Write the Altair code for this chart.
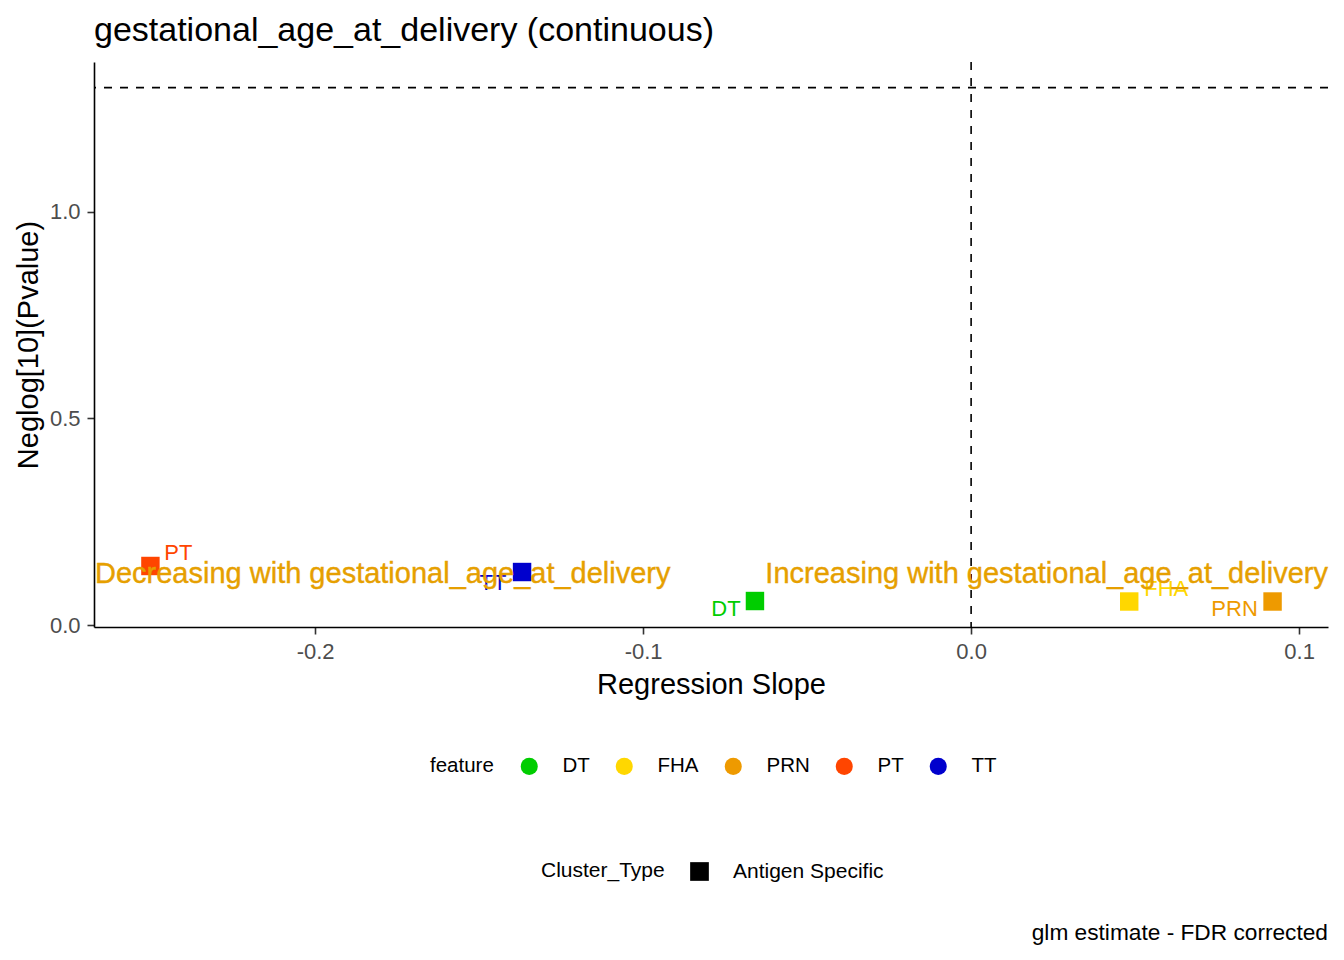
import altair as alt
import pandas as pd

# ---- data ----
features = ["DT", "FHA", "PRN", "PT", "TT"]
slopes = [-0.0659, 0.0482, 0.0919, -0.2502, -0.1369]
neglog_p = [0.0581, 0.0569, 0.0569, 0.1429, 0.1283]
cluster_type = ["Antigen Specific"] * 5
feature_colors = ["#00CD00", "#FFD700", "#EE9A00", "#FF4500", "#0000CD"]

x_ticks = [-0.2, -0.1, 0.0, 0.1]
y_ticks = [0.0, 0.5, 1.0]
x_domain = [-0.2674, 0.1088]
y_domain = [-0.0048, 1.363]

sig_line = [1.30103]   # -log10(0.05)
zero_line = [0.0]

annot_y = [0.1235]
annot_left = ["Decreasing with gestational_age_at_delivery"]
annot_right = ["Increasing with gestational_age_at_delivery"]
caption = ["glm estimate - FDR corrected"]
title_text = "gestational_age_at_delivery (continuous)"

df = pd.DataFrame({"feature": features, "slope": slopes, "nlp": neglog_p,
                   "Cluster_Type": cluster_type})

W, H = 1234, 565
FONT = "Liberation Sans"
ANNOT_COLOR = "#E69F00"
LABEL_EXPR = "replace(format(datum.value, '.1f'), '\u2212', '-')"

# label offsets (repel-like placement), pixels
label_offsets = {"DT": (-29, 8), "FHA": (37, -13), "PRN": (-38, 7),
                 "PT": (28, -13), "TT": (-29, 11)}

xs = alt.Scale(domain=x_domain, nice=False, zero=False)
ys = alt.Scale(domain=y_domain, nice=False, zero=False)
cs = alt.Scale(domain=features, range=feature_colors)

base = alt.Chart(df)

points = base.mark_point(filled=True, opacity=1, size=340, strokeWidth=0).encode(
    x=alt.X("slope:Q", scale=xs,
            axis=alt.Axis(values=x_ticks, labelExpr=LABEL_EXPR, title="Regression Slope")),
    y=alt.Y("nlp:Q", scale=ys,
            axis=alt.Axis(values=y_ticks, labelExpr=LABEL_EXPR, title="Neglog[10](Pvalue)")),
    color=alt.Color("feature:N", scale=cs,
                    legend=alt.Legend(title="feature", orient="none", legendX=336,
                                      legendY=694, direction="horizontal",
                                      symbolType="circle", symbolSize=290,
                                      symbolStrokeWidth=0, titleOrient="left",
                                      labelOffset=23, columnPadding=24,
                                      titlePadding=25)),
    shape=alt.Shape("Cluster_Type:N", scale=alt.Scale(range=["square"]),
                    legend=alt.Legend(title="Cluster_Type", orient="none", legendX=447,
                                      legendY=799, direction="horizontal",
                                      symbolSize=350, symbolFillColor="black",
                                      symbolStrokeColor="black", symbolStrokeWidth=0,
                                      titleOrient="left", labelOffset=23,
                                      titlePadding=24, labelFontSize=21,
                                      titleFontSize=21)),
)

hline = alt.Chart(pd.DataFrame({"y": sig_line})).mark_rule(
    color="black", strokeDash=[8, 8], strokeWidth=1.6).encode(y=alt.Y("y:Q", scale=ys))
vline = alt.Chart(pd.DataFrame({"x": zero_line})).mark_rule(
    color="black", strokeDash=[8, 8], strokeWidth=1.6).encode(x=alt.X("x:Q", scale=xs))

label_layers = []
for f in features:
    dx, dy = label_offsets[f]
    label_layers.append(
        base.transform_filter(alt.datum.feature == f).mark_text(
            fontSize=22, dx=dx, dy=dy, baseline="middle", align="center").encode(
            x=alt.X("slope:Q", scale=xs), y=alt.Y("nlp:Q", scale=ys),
            text="feature:N",
            color=alt.Color("feature:N", scale=cs, legend=None))
    )

annot_df = pd.DataFrame({"y": annot_y, "left": annot_left, "right": annot_right})
annot_l = alt.Chart(annot_df).mark_text(
    fontSize=29, align="left", baseline="middle", color=ANNOT_COLOR, dx=1,
    stroke=ANNOT_COLOR, strokeWidth=0.4).encode(
    x=alt.value(0), y=alt.Y("y:Q", scale=ys), text="left:N")
annot_r = alt.Chart(annot_df).mark_text(
    fontSize=29, align="right", baseline="middle", color=ANNOT_COLOR,
    stroke=ANNOT_COLOR, strokeWidth=0.4).encode(
    x=alt.value(W), y=alt.Y("y:Q", scale=ys), text="right:N")

cap = alt.Chart(pd.DataFrame({"t": caption})).mark_text(
    fontSize=22.7, align="right", baseline="middle", color="black").encode(
    x=alt.value(W), y=alt.value(871), text="t:N")

chart = alt.layer(points, hline, vline, *label_layers, annot_l, annot_r, cap).properties(
    width=W, height=H,
    title=alt.TitleParams(title_text, anchor="start", fontSize=34, fontWeight="normal",
                          color="black", font=FONT, offset=13, frame="group"),
    autosize=alt.AutoSizeParams(type="none"),
    padding={"left": 86, "top": 54, "right": 8, "bottom": 325},
).configure(font=FONT).configure_view(stroke=None).configure_axis(
    grid=False, domainColor="black", domainWidth=1.6, tickColor="#333333",
    tickWidth=1.6, tickSize=7, labelFontSize=22, labelColor="#4D4D4D",
    titleFontSize=29, titleFontWeight="normal", titleColor="black",
    labelFont=FONT, titleFont=FONT,
).configure_axisX(labelPadding=7, titlePadding=8).configure_axisY(
    labelPadding=7, titlePadding=6).configure_legend(
    labelFontSize=20.5, titleFontSize=20.5, titleFontWeight="normal",
    labelFont=FONT, titleFont=FONT, labelColor="black", titleColor="black")

chart.save("out.html", embed_options={"renderer": "svg", "actions": False})
